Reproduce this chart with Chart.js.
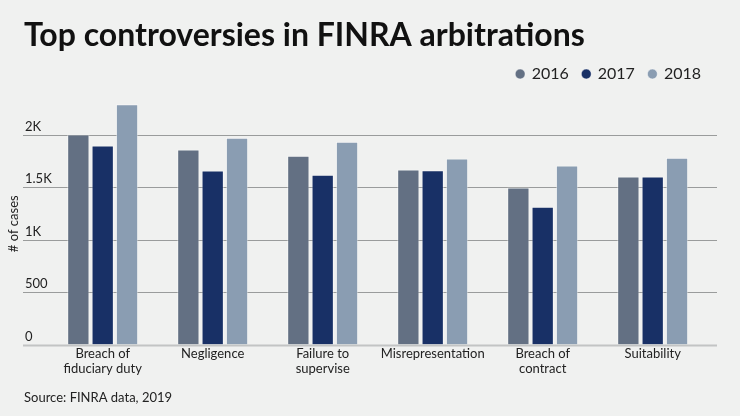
<!DOCTYPE html>
<html>
<head>
<meta charset="utf-8">
<script src="https://cdn.jsdelivr.net/npm/chart.js@4.4.0/dist/chart.umd.min.js"></script>
<style>
  html, body { margin: 0; padding: 0; background: #f0f1f0; }
  #wrap { width: 740px; height: 416px; position: relative; }
</style>
</head>
<body>
<div id="wrap"><canvas id="finra"></canvas></div>
<script>
// categories and counts
var categories = [
    ["Breach of", "fiduciary duty"],
    "Negligence",
    ["Failure to", "supervise"],
    "Misrepresentation",
    ["Breach of", "contract"],
    "Suitability"
];
var years = ["2016", "2017", "2018"];
var cases2016 = [2000, 1857, 1797, 1667, 1496, 1601];
var cases2017 = [1895, 1657, 1617, 1660, 1313, 1601];
var cases2018 = [2287, 1968, 1930, 1771, 1705, 1778];
var yTicks = [0, 500, 1000, 1500, 2000];
var yTickLabels = ["0", "500", "1K", "1.5K", "2K"];

var colors = ["#637083", "#183066", "#8a9db2"];
var fontFamily = "Lato, 'Noto Sans', sans-serif";

function makeSet(i, data) {
    return {
        label: years[i],
        data: data,
        backgroundColor: colors[i],
        borderColor: "rgba(255,255,255,0.45)",
        borderWidth: 1,
        categoryPercentage: 0.664,
        barPercentage: 0.917
    };
}

// gridlines run a little past the plot on both sides
var fullGrid = {
    id: "fullGrid",
    beforeDatasetsDraw: function (chart) {
        var y = chart.scales.y;
        var ctx = chart.ctx;
        ctx.save();
        yTicks.forEach(function (v) {
            var py = Math.round(y.getPixelForValue(v)) + 0.5;
            ctx.beginPath();
            ctx.lineWidth = v === 0 ? 2 : 1;
            ctx.strokeStyle = v === 0 ? "#c2c4c4" : "#9a9c9c";
            ctx.moveTo(23, py);
            ctx.lineTo(717, py);
            ctx.stroke();
        });
        ctx.restore();
    }
};

// extra room under the legend
var legendGap = {
    id: "legendGap",
    beforeInit: function (chart) {
        var fit = chart.legend.fit;
        chart.legend.fit = function () {
            fit.bind(chart.legend)();
            this.height += 11;
        };
    }
};

var ctx = document.getElementById("finra").getContext("2d");
var chart = new Chart(ctx, {
    type: "bar",
    data: {
        labels: categories,
        datasets: [makeSet(0, cases2016), makeSet(1, cases2017), makeSet(2, cases2018)]
    },
    options: {
        responsive: true,
        maintainAspectRatio: false,
        animation: false,
        layout: { padding: { left: 24, right: 25, top: 0, bottom: 0 } },
        plugins: {
            title: {
                display: true,
                text: "Top controversies in FINRA arbitrations",
                align: "start",
                color: "#111",
                font: { family: fontFamily, size: 32, weight: "bold", lineHeight: 1.0 },
                padding: { top: 20, bottom: 0 }
            },
            legend: {
                position: "top",
                align: "end",
                labels: {
                    usePointStyle: true,
                    pointStyle: "circle",
                    boxWidth: 7,
                    boxHeight: 7,
                    padding: 14,
                    color: "#222",
                    font: { family: fontFamily, size: 16 }
                }
            },
            subtitle: {
                display: true,
                position: "bottom",
                align: "start",
                text: "Source: FINRA data, 2019",
                color: "#222",
                font: { family: fontFamily, size: 13, lineHeight: 1.2 },
                padding: { top: 12, bottom: 10 }
            },
            tooltip: { enabled: false }
        },
        scales: {
            x: {
                grid: { display: false, drawTicks: false },
                border: { display: false },
                ticks: {
                    color: "#222",
                    padding: 2,
                    maxRotation: 0,
                    autoSkip: false,
                    font: { family: fontFamily, size: 13, lineHeight: 1.15 }
                }
            },
            y: {
                min: 0,
                max: 2300,
                grid: { display: false, drawTicks: false },
                border: { display: false },
                afterBuildTicks: function (s) {
                    s.ticks = yTicks.map(function (v) { return { value: v }; });
                },
                afterFit: function (s) { s.width = 23.7; },
                ticks: {
                    mirror: true,
                    padding: -22.7,
                    labelOffset: -8,
                    color: "#222",
                    font: { family: fontFamily, size: 13 },
                    callback: function (value) {
                        return yTickLabels[yTicks.indexOf(value)];
                    }
                },
                title: {
                    display: true,
                    text: "# of cases",
                    color: "#222",
                    font: { family: fontFamily, size: 13 },
                    padding: { top: -18, bottom: 0 }
                }
            },
            yRight: {
                position: "right",
                display: true,
                grid: { display: false, drawTicks: false },
                border: { display: false },
                ticks: { display: false },
                afterFit: function (s) { s.width = 7.3; }
            }
        }
    },
    plugins: [fullGrid, legendGap]
});
</script>
</body>
</html>
